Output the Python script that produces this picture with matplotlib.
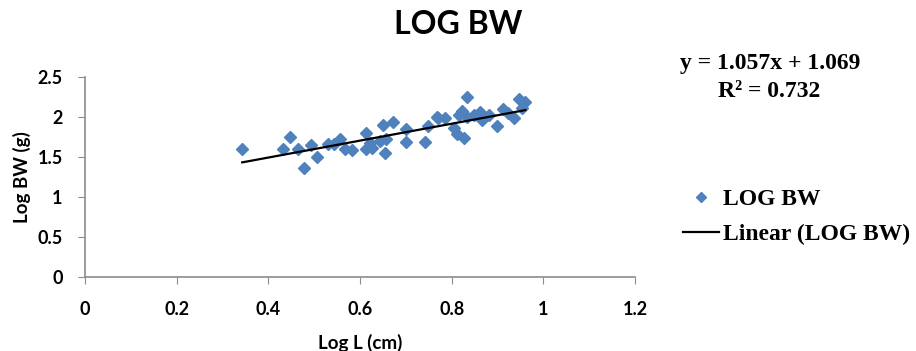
import matplotlib.pyplot as plt
import numpy as np

# Log L (cm) vs Log BW (g)
log_l = [0.343, 0.433, 0.448, 0.464, 0.478, 0.493, 0.507, 0.531, 0.544, 0.557,
         0.568, 0.582, 0.614, 0.614, 0.622, 0.626, 0.643, 0.651, 0.654, 0.657,
         0.672, 0.701, 0.701, 0.742, 0.748, 0.768, 0.771, 0.786, 0.806, 0.811,
         0.815, 0.822, 0.826, 0.833, 0.833, 0.848, 0.862, 0.866, 0.881, 0.899,
         0.913, 0.924, 0.935, 0.948, 0.953, 0.961]
log_bw = [1.60, 1.60, 1.75, 1.60, 1.36, 1.65, 1.50, 1.66, 1.66, 1.72,
          1.60, 1.59, 1.80, 1.60, 1.67, 1.61, 1.70, 1.90, 1.55, 1.72,
          1.93, 1.85, 1.68, 1.69, 1.88, 2.00, 1.99, 1.98, 1.86, 1.78,
          2.02, 2.07, 1.73, 2.25, 2.00, 2.02, 2.06, 1.96, 2.02, 1.88,
          2.10, 2.05, 1.98, 2.22, 2.11, 2.19]

slope = 1.057
intercept = 1.069
r_squared = 0.732

x_ticks = [0, 0.2, 0.4, 0.6, 0.8, 1.0, 1.2]
x_labels = ["0", "0.2", "0.4", "0.6", "0.8", "1", "1.2"]
y_ticks = [0, 0.5, 1.0, 1.5, 2.0, 2.5]
y_labels = ["0", "0.5", "1", "1.5", "2", "2.5"]

sans = ["Lato", "DejaVu Sans"]
serif = ["Liberation Serif", "DejaVu Serif"]
axis_grey = "#8c8c8c"

fig = plt.figure(figsize=(9.16, 3.51), dpi=100)
ax = fig.add_axes([0.0928, 0.211, 0.6004, 0.570])

ax.plot(log_l, log_bw, linestyle="none", marker="D", markersize=6.5,
        color="#4f81bd", label="LOG BW", zorder=3)

# trend line over the data range
x_fit = np.array([min(log_l), max(log_l)])
ax.plot(x_fit, slope * x_fit + intercept, color="black", linewidth=1.6,
        label="Linear (LOG BW)", zorder=4)

ax.set_xlim(0, 1.2)
ax.set_ylim(0, 2.5)
ax.set_xticks(x_ticks)
ax.set_xticklabels(x_labels, family=sans, fontweight="bold", fontsize=13)
ax.set_yticks(y_ticks)
ax.set_yticklabels(y_labels, family=sans, fontweight="bold", fontsize=13)
ax.tick_params(axis="x", direction="out", length=5, color=axis_grey, pad=12)
ax.tick_params(axis="y", direction="out", length=5, color=axis_grey, pad=11)

for side in ["top", "right"]:
    ax.spines[side].set_visible(False)
for side in ["left", "bottom"]:
    ax.spines[side].set_color(axis_grey)
    ax.spines[side].set_linewidth(1.2)

ax.set_xlabel("Log L (cm)", family=sans, fontweight="bold", fontsize=13.5)
ax.xaxis.set_label_coords(0.5, -0.285)
ax.set_ylabel("Log BW (g)", family=sans, fontweight="bold", fontsize=13.5)
ax.yaxis.set_label_coords(-0.098, 0.5)

fig.text(0.5, 0.929, "LOG BW", ha="center", va="center", family=sans,
         fontweight="bold", fontsize=23)

fig.text(0.841, 0.818, f"y = {slope}x + {intercept}", ha="center", va="center",
         family=serif, fontweight="bold", fontsize=17)
fig.text(0.840, 0.738, f"R² = {r_squared}", ha="center", va="center",
         family=serif, fontweight="bold", fontsize=17)

ax.legend(loc="center left", bbox_to_anchor=(0.722, 0.382), bbox_transform=fig.transFigure,
          frameon=False, prop={"family": serif, "weight": "bold", "size": 17},
          handlelength=1.55, handletextpad=0.15, labelspacing=0.6, markerscale=0.8)

fig.savefig("out.png", dpi=100)
